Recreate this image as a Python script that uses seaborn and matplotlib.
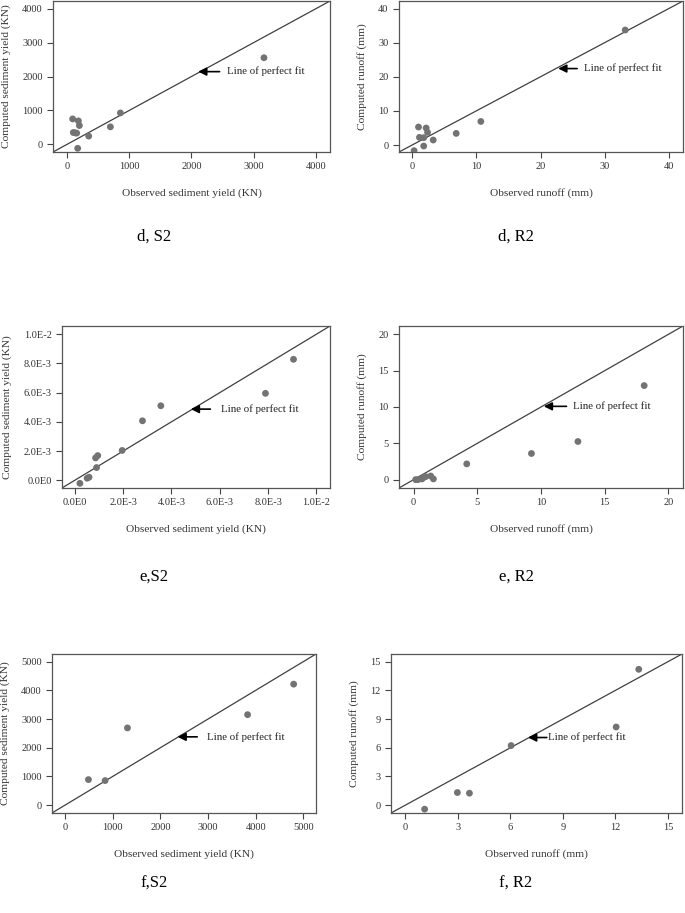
#!/usr/bin/env python3
import pandas as pd
import seaborn as sns
import matplotlib.pyplot as plt
from matplotlib.ticker import FixedLocator, FixedFormatter

sns.set_style("ticks")
plt.rcParams["font.family"] = ["Liberation Serif", "DejaVu Serif"]

# ---- data (observed, computed) ----
d_s2_obs = [91, 183, 199, 102, 156, 130, 349, 698, 859, 172, 3168]
d_s2_cal = [751, 693, 556, 351, 332, 340, 244, 517, 927, -117, 2556]

d_r2_obs = [0.99, 2.18, 2.4, 1.14, 1.8, 3.28, 1.8, 0.3, 6.86, 10.7, 33.2]
d_r2_cal = [5.27, 4.98, 3.7, 2.24, 2.15, 1.46, -0.3, -1.66, 3.4, 6.9, 33.7]

e_s2_obs = [0.21e-3, 0.51e-3, 0.59e-3, 0.90e-3, 0.86e-3, 0.95e-3, 1.96e-3, 2.80e-3, 3.56e-3, 7.89e-3, 9.05e-3]
e_s2_cal = [-0.21e-3, 0.14e-3, 0.21e-3, 0.87e-3, 1.53e-3, 1.69e-3, 2.04e-3, 4.07e-3, 5.10e-3, 5.95e-3, 8.28e-3]

e_r2_obs = [0.16, 0.34, 0.66, 0.79, 0.94, 1.34, 1.55, 4.17, 9.25, 12.9, 18.1]
e_r2_cal = [0.0, 0.0, 0.1, 0.32, 0.41, 0.5, 0.1, 2.17, 3.6, 5.25, 12.95]

f_s2_obs = [490, 840, 1309, 3830, 4797]
f_s2_cal = [889, 855, 2690, 3152, 4215]

f_r2_obs = [1.1, 2.97, 3.66, 6.04, 12.04, 13.33]
f_r2_cal = [-0.42, 1.32, 1.25, 6.23, 8.17, 14.2]

sed_ticks_d = [0, 1000, 2000, 3000, 4000]
run_ticks_d = [0, 10, 20, 30, 40]
sed_ticks_e = [0, 2e-3, 4e-3, 6e-3, 8e-3, 1e-2]
sed_labels_e = ["0.0E0", "2.0E-3", "4.0E-3", "6.0E-3", "8.0E-3", "1.0E-2"]
run_ticks_e = [0, 5, 10, 15, 20]
sed_ticks_f = [0, 1000, 2000, 3000, 4000, 5000]
run_ticks_f = [0, 3, 6, 9, 12, 15]

captions = ["d, S2", "d, R2", "e,S2", "e, R2", "f,S2", "f, R2"]

SED_X = "Observed sediment yield (KN)"
SED_Y = "Computed sediment yield (KN)"
RUN_X = "Observed runoff (mm)"
RUN_Y = "Computed runoff (mm)"

W, H = 685, 913

# panel spec: data, limits, ticks, labels, box (left, right, top, bottom px), arrow head/tail/text
panels = [
    dict(obs=d_s2_obs, cal=d_s2_cal, lim=(-225, 4230), ticks=sed_ticks_d, labels=None,
         xl=SED_X, yl=SED_Y, box=(53, 330, 1, 152),
         head=(2110, 2146), tail=(2454, 2146), txt=(2577, 2146),
         cap_xy=(154, 237)),
    dict(obs=d_r2_obs, cal=d_r2_cal, lim=(-2.05, 42.2), ticks=run_ticks_d, labels=None,
         xl=RUN_X, yl=RUN_Y, box=(399, 683, 1, 152),
         head=(22.76, 22.4), tail=(25.7, 22.4), txt=(26.7, 22.4),
         cap_xy=(516, 237)),
    dict(obs=e_s2_obs, cal=e_s2_cal, lim=(-0.53e-3, 10.56e-3), ticks=sed_ticks_e, labels=sed_labels_e,
         xl=SED_X, yl=SED_Y, box=(62, 330, 326, 488),
         head=(4.8e-3, 4.87e-3), tail=(5.61e-3, 4.87e-3), txt=(6.04e-3, 4.87e-3),
         cap_xy=(154, 577)),
    dict(obs=e_r2_obs, cal=e_r2_cal, lim=(-1.15, 21.15), ticks=run_ticks_e, labels=None,
         xl=RUN_X, yl=RUN_Y, box=(399, 683, 326, 488),
         head=(10.22, 10.09), tail=(12.0, 10.09), txt=(12.53, 10.09),
         cap_xy=(516, 577)),
    dict(obs=f_s2_obs, cal=f_s2_cal, lim=(-275, 5266), ticks=sed_ticks_f, labels=None,
         xl=SED_X, yl=SED_Y, box=(52, 316, 654, 813),
         head=(2360, 2379), tail=(2773, 2379), txt=(2969, 2379),
         cap_xy=(154, 884)),
    dict(obs=f_r2_obs, cal=f_r2_cal, lim=(-0.82, 15.8), ticks=run_ticks_f, labels=None,
         xl=RUN_X, yl=RUN_Y, box=(391, 682, 654, 813),
         head=(7.01, 7.07), tail=(8.08, 7.07), txt=(8.12, 7.07),
         cap_xy=(516, 884)),
]

fig = plt.figure(figsize=(W / 100, H / 100), dpi=100)

for p, caption in zip(panels, captions):
    l, r, t, b = p["box"]
    ax = fig.add_axes([l / W, 1 - b / H, (r - l) / W, (b - t) / H])
    df = pd.DataFrame({"obs": p["obs"], "cal": p["cal"]})
    sns.scatterplot(data=df, x="obs", y="cal", ax=ax, color="#737373",
                    s=24, edgecolor="none", zorder=3)
    lo, hi = p["lim"]
    ax.set_xlim(lo, hi)
    ax.set_ylim(lo, hi)
    ax.axline((0, 0), slope=1, color="#404040", lw=0.9, zorder=2)

    ax.xaxis.set_major_locator(FixedLocator(p["ticks"]))
    ax.yaxis.set_major_locator(FixedLocator(p["ticks"]))
    if p["labels"] is not None:
        ax.xaxis.set_major_formatter(FixedFormatter(p["labels"]))
        ax.yaxis.set_major_formatter(FixedFormatter(p["labels"]))
    ax.tick_params(axis="both", direction="out", length=4.5, width=0.8,
                   color="#444444", labelsize=7.5, labelcolor="#333333", pad=3)
    for sp in ax.spines.values():
        sp.set_color("#555555")
        sp.set_linewidth(0.9)

    ax.set_xlabel(p["xl"], fontsize=8.2, color="#333333", labelpad=12)
    ax.set_ylabel(p["yl"], fontsize=8.2, color="#333333", labelpad=8)

    ax.annotate("", xy=p["head"], xytext=p["tail"],
                arrowprops=dict(arrowstyle="-|>", color="black", lw=1.2,
                                mutation_scale=12, shrinkA=0, shrinkB=0))
    ax.text(p["txt"][0], p["txt"][1], "Line of perfect fit", fontsize=7.8,
            color="#222222", ha="left", va="center")

    cx, cy = p["cap_xy"]
    fig.text(cx / W, 1 - cy / H, caption, fontsize=12, color="black",
             ha="center", va="center")

fig.savefig("out.png", dpi=100)
